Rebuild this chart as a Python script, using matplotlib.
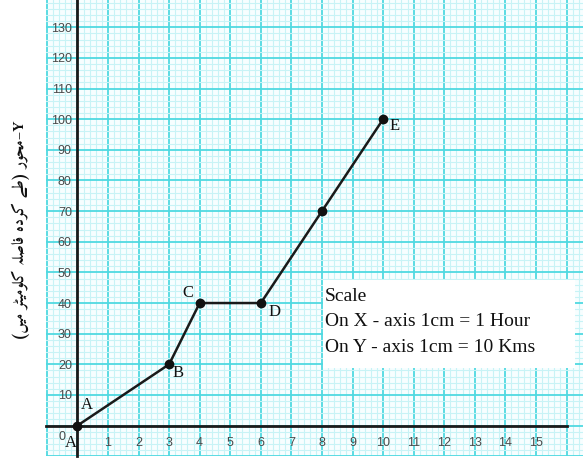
import matplotlib

matplotlib.use("Agg")
import matplotlib.pyplot as plt
import numpy as np
from matplotlib import font_manager, ft2font
from matplotlib.patches import Rectangle

# distance-time data
hours = [0, 3, 4, 6, 8, 10]
km = [0, 20, 40, 40, 70, 100]
point_names = ["A", "B", "C", "D", "", "E"]
x_ticks = list(range(1, 16))
y_ticks = list(range(10, 140, 10))
scale_lines = ["Scale", "On X - axis 1cm = 1 Hour", "On Y - axis 1cm = 10 Kms"]
ylabel_axis = "محور"
ylabel_rest = "طے کردہ فاصلہ کلومیٹر میں"

PAPER = "#f7feff"
MAJOR = "#4fd9e1"
MID = "#93e8ed"
MINOR = "#c8f3f6"
URDU_FONT = ["Amiri", "DejaVu Sans"]

# --- minimal Arabic-script shaping (matplotlib draws glyphs without joining)
FORMS = {  # isolated, final, initial, medial
    "\u0627": ("\uFE8D", "\uFE8E", None, None),
    "\u062D": ("\uFEA1", "\uFEA2", "\uFEA3", "\uFEA4"),
    "\u062F": ("\uFEA9", "\uFEAA", None, None),
    "\u0631": ("\uFEAD", "\uFEAE", None, None),
    "\u0635": ("\uFEB9", "\uFEBA", "\uFEBB", "\uFEBC"),
    "\u0637": ("\uFEC1", "\uFEC2", "\uFEC3", "\uFEC4"),
    "\u0641": ("\uFED1", "\uFED2", "\uFED3", "\uFED4"),
    "\u0644": ("\uFEDD", "\uFEDE", "\uFEDF", "\uFEE0"),
    "\u0645": ("\uFEE1", "\uFEE2", "\uFEE3", "\uFEE4"),
    "\u0648": ("\uFEED", "\uFEEE", None, None),
    "\u0679": ("\uFB66", "\uFB67", "\uFB68", "\uFB69"),
    "\u06A9": ("\uFB8E", "\uFB8F", "\uFB90", "\uFB91"),
    "\u06BA": ("\uFB9E", "\uFB9F", None, None),
    "\u06C1": ("\uFBA6", "\uFBA7", "\uFBA8", "\uFBA9"),
    "\u06CC": ("\uFBFC", "\uFBFD", "\uFBFE", "\uFBFF"),
    "\u06D2": ("\uFBAE", "\uFBAF", None, None),
}
DUAL = set("\u062D\u0635\u0637\u0641\u0644\u0645\u0679\u06A9\u06C1\u06CC")

_path = font_manager.findfont(
    font_manager.FontProperties(family=URDU_FONT[0], weight="bold"))
_cmap = ft2font.FT2Font(_path).get_charmap()


def shape(text: str) -> str:
    out = []
    for i, ch in enumerate(text):
        if ch not in FORMS:
            out.append(ch)
            continue
        prev = text[i - 1] if i > 0 else ""
        nxt = text[i + 1] if i + 1 < len(text) else ""
        jp = prev in DUAL
        jn = ch in DUAL and nxt in FORMS
        idx = 3 if (jp and jn) else 1 if jp else 2 if jn else 0
        g = FORMS[ch][idx]
        if g is None:
            g = FORMS[ch][1] if jp else FORMS[ch][0]
        out.append(g if ord(g) in _cmap else ch)
    return "".join(out)[::-1]  # visual (left-to-right) order


ylabel = "(" + shape(ylabel_rest) + ") " + shape(ylabel_axis) + "\u2013Y"

# --- figure laid out in pixels (583 x 459)
W, H = 583, 459
fig = plt.figure(figsize=(W / 100, H / 100), dpi=100)
fig.patch.set_facecolor("white")
ax = fig.add_axes([46 / W, 3 / H, (W - 46) / W, 456 / H])
ax.set_facecolor(PAPER)

x0, sx = 77.4, 30.57   # pixel of x=0, pixels per hour
y0, sy = 425.6, 3.064  # pixel of y=0, pixels per km
ax.set_xlim((46 - x0) / sx, (W - x0) / sx)
ax.set_ylim((y0 - 456) / sy, y0 / sy)

# graph-paper rulings
for v in np.arange(-1.0, 16.8, 0.2):
    r = round(v, 1)
    if abs(r - round(r)) < 1e-6:
        c, lw = MAJOR, 1.3
    elif abs(r * 2 - round(r * 2)) < 1e-6:
        c, lw = MID, 1.0
    else:
        c, lw = MINOR, 0.8
    ax.axvline(r, color=c, lw=lw, zorder=0)
for v in np.arange(-10, 140, 2):
    if v % 10 == 0:
        c, lw = MAJOR, 1.3
    elif v % 5 == 0:
        c, lw = MID, 1.0
    else:
        c, lw = MINOR, 0.8
    ax.axhline(v, color=c, lw=lw, zorder=0)

# axes through the origin
for s in ("top", "right"):
    ax.spines[s].set_visible(False)
ax.spines["bottom"].set_position(("data", 0))
ax.spines["left"].set_position(("data", 0))
ax.spines["bottom"].set_bounds(ax.get_xlim()[0], 16.0)
for s in ("bottom", "left"):
    ax.spines[s].set_linewidth(2.0)
    ax.spines[s].set_color("#1a1a1a")
    ax.spines[s].set_zorder(2)

tick_font = dict(family="Liberation Sans", size=9)
ax.set_xticks(x_ticks, [str(t) for t in x_ticks], color="#4a4a4a", **tick_font)
ax.set_yticks(y_ticks, [str(t) for t in y_ticks], color="#4a4a4a", **tick_font)
ax.tick_params(axis="x", length=0, pad=8)
ax.tick_params(axis="y", length=0, pad=4)
ax.text(-0.5, -3.7, "0", color="#4a4a4a", ha="center", va="center", **tick_font)

# the journey
ax.plot(hours, km, color="#1a1a1a", lw=1.8, zorder=3)
ax.plot(hours, km, "o", color="#111111", ms=6, zorder=4)

serif = dict(family="Liberation Serif", size=12, color="#111111", zorder=5)
offsets = [(0.32, 6.7), (0.3, -2.8), (-0.38, 3.3), (0.46, -3.0), (0, 0), (0.39, -2.3)]
for x, y, name, (dx, dy) in zip(hours, km, point_names, offsets):
    if name:
        ax.text(x + dx, y + dy, name, ha="center", va="center", **serif)
ax.text(-0.2, -5.8, "A", ha="center", va="center", **serif)

# scale box
bx0, bx1 = (323 - x0) / sx, (575 - x0) / sx
by0, by1 = (y0 - 368) / sy, (y0 - 280) / sy
ax.add_patch(Rectangle((bx0, by0), bx1 - bx0, by1 - by0, facecolor="white",
                       edgecolor="none", zorder=5))
for line, py in zip(scale_lines, [301, 326, 352]):
    ax.text(bx0 + 0.05, (y0 - py) / sy, line, ha="left", va="baseline",
            family="Liberation Serif", size=14, color="#111111", zorder=6)

fig.text(21 / W, 1 - 230 / H, ylabel, rotation=90, ha="center", va="center",
         family=URDU_FONT, weight="bold", size=11.5, color="#111111")

fig.savefig("out.png", dpi=100)
